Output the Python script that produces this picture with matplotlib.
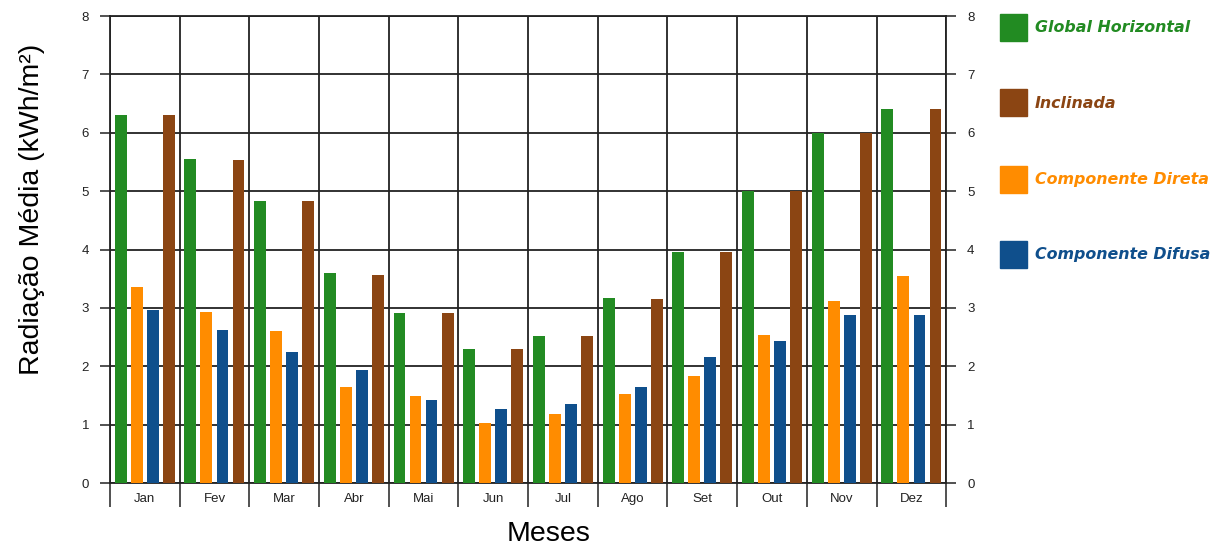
import numpy as np
import matplotlib
matplotlib.use('Agg')
import matplotlib.pyplot as plt
from matplotlib.patches import Rectangle

plt.rcParams['font.family'] = ['Liberation Sans', 'DejaVu Sans']

meses = ["Jan", "Fev", "Mar", "Abr", "Mai", "Jun", "Jul", "Ago", "Set", "Out", "Nov", "Dez"]
global_h = [6.30, 5.55, 4.83, 3.60, 2.91, 2.29, 2.52, 3.17, 3.96, 5.00, 6.00, 6.41]
direta = [3.36, 2.93, 2.60, 1.64, 1.49, 1.03, 1.18, 1.52, 1.84, 2.54, 3.12, 3.54]
difusa = [2.96, 2.62, 2.24, 1.93, 1.42, 1.27, 1.36, 1.65, 2.16, 2.44, 2.88, 2.88]
inclinada = [6.30, 5.53, 4.83, 3.56, 2.91, 2.29, 2.52, 3.15, 3.96, 5.00, 6.00, 6.41]

c_verde = "#228b22"
c_marrom = "#8b4513"
c_laranja = "#ff8c00"
c_azul = "#0f4f8c"

fig = plt.figure(figsize=(12.21, 5.48), dpi=100)
ax = fig.add_axes([0.090, 0.1186, 0.685, 0.852])

x = np.arange(12)
w = 0.17
ax.bar(x + 0.5 - 0.345, global_h, w, color=c_verde, zorder=3)
ax.bar(x + 0.5 - 0.115, direta, w, color=c_laranja, zorder=3)
ax.bar(x + 0.5 + 0.115, difusa, w, color=c_azul, zorder=3)
ax.bar(x + 0.5 + 0.345, inclinada, w, color=c_marrom, zorder=3)

ax.set_xlim(0, 12)
ax.set_ylim(0, 8)
ax.set_yticks(range(9))
ax.set_xticks(range(13))
ax.set_xticklabels([])
ax.set_xticks(x + 0.5, minor=True)
ax.set_xticklabels(meses, minor=True)
ax.tick_params(axis='x', which='minor', length=0, labelsize=9.5, pad=7, colors='#222222')
ax.tick_params(axis='x', which='major', length=17, width=1.2, color='#333333')
ax.tick_params(axis='y', length=7, width=1.2, color='#333333', labelsize=9.5, pad=8,
               labelcolor='#222222', right=True, labelright=True)
ax.grid(True, which='major', color='#222222', linewidth=1.3, zorder=1)
for s in ax.spines.values():
    s.set_color('#222222')
    s.set_linewidth(1.3)

ax.set_ylabel("Radiação Média (kWh/m²)", fontsize=20.5)
ax.yaxis.set_label_coords(-0.078, 0.585)
ax.set_xlabel("Meses", fontsize=20.5)
ax.xaxis.set_label_coords(0.524, -0.082)

# legenda
itens = [("Global Horizontal", c_verde), ("Inclinada", c_marrom),
         ("Componente Direta", c_laranja), ("Componente Difusa", c_azul)]
ys = [28, 103, 180, 255]
for (nome, cor), yp in zip(itens, ys):
    fig.patches.append(Rectangle((1000 / 1221, 1 - (yp + 13) / 548), 27 / 1221, 27 / 548,
                                 transform=fig.transFigure, color=cor))
    fig.text(1035 / 1221, 1 - yp / 548, nome, color=cor, fontsize=11.4,
             fontweight='bold', fontstyle='italic', va='center', ha='left',
             family=['DejaVu Sans'])

fig.savefig("out.png", dpi=100)
